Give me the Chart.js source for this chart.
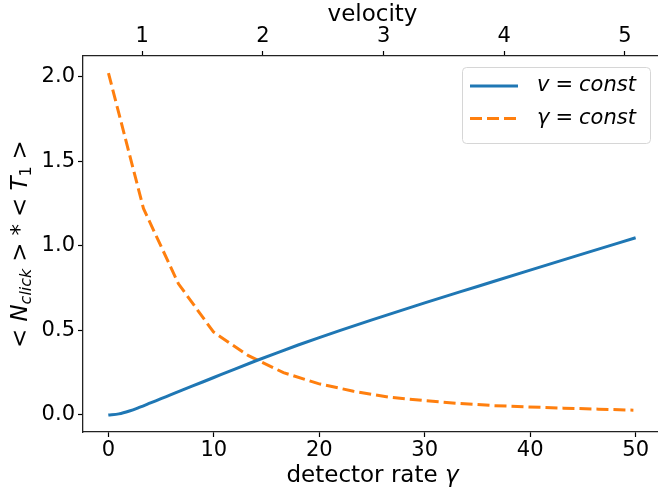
<!DOCTYPE html>
<html><head><meta charset="utf-8">
<script src="https://cdn.jsdelivr.net/npm/chart.js@4"></script>
<style>html,body{margin:0;padding:0;background:#fff;overflow:hidden;width:658px;height:493px}canvas{display:block}</style>
</head><body>
<canvas id="c" width="662" height="493"></canvas>
<script>
// ---- data ----
const detectorRate = [0,1,2,3,4,5,6,8,10,12,14,16,18,20,22,25,30,35,40,45,50];
const nClickVConst = [0,0.006,0.023,0.046,0.071,0.096,0.121,0.171,0.221,0.271,0.32,0.367,0.413,0.457,0.5,0.562,0.662,0.759,0.856,0.952,1.047];
const velocity = [0.72,1.01,1.30,1.59,1.88,2.17,2.46,2.75,3.04,3.33,3.62,3.91,4.20,4.49,4.78,5.07];
const nClickGammaConst = [2.02,1.22,0.775,0.49,0.35,0.25,0.185,0.14,0.105,0.085,0.068,0.055,0.047,0.04,0.034,0.028];
const seriesLabels = ['v = const','γ = const'];
const rateTicks = [0,10,20,30,40,50];
const velocityTicks = [1,2,3,4,5];
const yTicks = [0,0.5,1.0,1.5,2.0];
const xTitleParts = ['detector rate ', 'γ'];
const x2Title = 'velocity';

const FONT = '"DejaVu Sans", sans-serif';
const BLUE = '#1f77b4', ORANGE = '#ff7f0e';

const legendPlugin = {
  id: 'mplLegend',
  afterDraw(chart) {
    const ctx = chart.ctx;
    ctx.save();
    const bx = 462.5, by = 67.5, bw = 188, bh = 76, r = 4;
    ctx.beginPath();
    ctx.roundRect(bx, by, bw, bh, r);
    ctx.fillStyle = 'rgba(255,255,255,0.8)';
    ctx.fill();
    ctx.strokeStyle = '#d6d6d6';
    ctx.lineWidth = 1;
    ctx.stroke();
    const rows = [86, 118.5];
    chart.data.datasets.forEach((ds, i) => {
      const y = rows[i];
      ctx.beginPath();
      ctx.setLineDash(ds.borderDash || []);
      ctx.lineWidth = ds.borderWidth;
      ctx.strokeStyle = ds.borderColor;
      ctx.moveTo(470, y); ctx.lineTo(518, y);
      ctx.stroke();
      ctx.setLineDash([]);
      const [lhs, rhs] = ds.label.split(' = ');
      ctx.fillStyle = '#000';
      ctx.textBaseline = 'middle';
      ctx.textAlign = 'left';
      let x = 537;
      ctx.font = 'italic 21px ' + FONT;
      ctx.fillText(lhs, x, y); x += ctx.measureText(lhs).width + 6;
      ctx.font = '21px ' + FONT;
      ctx.fillText('=', x, y); x += ctx.measureText('=').width + 6;
      ctx.font = 'italic 21px ' + FONT;
      ctx.fillText(rhs, x, y);
    });
    ctx.restore();
  }
};

const titlesPlugin = {
  id: 'axisTitles',
  afterDraw(chart) {
    const ctx = chart.ctx;
    const a = chart.chartArea;
    ctx.save();
    ctx.fillStyle = '#000';
    // x title with italic gamma
    ctx.textBaseline = 'middle';
    ctx.textAlign = 'left';
    ctx.font = '23px ' + FONT;
    const w0 = ctx.measureText(xTitleParts[0]).width;
    ctx.font = 'italic 23px ' + FONT;
    const w1 = ctx.measureText(xTitleParts[1]).width;
    let x = (a.left + a.right) / 2 - (w0 + w1) / 2;
    ctx.font = '23px ' + FONT;
    ctx.fillText(xTitleParts[0], x, 476);
    ctx.font = 'italic 23px ' + FONT;
    ctx.fillText(xTitleParts[1], x + w0, 476);

    // y title  < N_click > * < T_1 >
    const parts = [
      {t:'<', s:23, it:false, dy:0, gap:0},
      {t:'N', s:23, it:true, dy:0, gap:7},
      {t:'click', s:16, it:true, dy:4, gap:0},
      {t:'>', s:23, it:false, dy:0, gap:7},
      {t:'*', s:23, it:false, dy:0, gap:7},
      {t:'<', s:23, it:false, dy:0, gap:7},
      {t:'T', s:23, it:true, dy:0, gap:7},
      {t:'1', s:16, it:false, dy:4, gap:0},
      {t:'>', s:23, it:false, dy:0, gap:7}
    ];
    let total = 0;
    parts.forEach(p => { ctx.font = (p.it?'italic ':'') + p.s + 'px ' + FONT; p.w = ctx.measureText(p.t).width; total += p.gap + p.w; });
    ctx.translate(27, (a.top + a.bottom) / 2);
    ctx.rotate(-Math.PI / 2);
    ctx.textBaseline = 'alphabetic';
    ctx.textAlign = 'left';
    x = -total / 2;
    parts.forEach(p => {
      x += p.gap;
      ctx.font = (p.it?'italic ':'') + p.s + 'px ' + FONT;
      ctx.fillText(p.t, x, p.dy);
      x += p.w;
    });
    ctx.restore();
  }
};

const setTicks = vals => scale => { scale.ticks = vals.map(v => ({value: v})); };
const axisCommon = {
  grid: { drawOnChartArea: false, drawTicks: true, tickLength: 5, tickColor: '#000', tickWidth: 1.2 },
  border: { display: true, color: '#222', width: 1.3 }
};

new Chart(document.getElementById('c'), {
  type: 'line',
  data: {
    datasets: [
      {
        label: seriesLabels[0],
        data: detectorRate.map((g, i) => ({x: g, y: nClickVConst[i]})),
        xAxisID: 'x', yAxisID: 'y',
        borderColor: BLUE, borderWidth: 3, pointRadius: 0,
        cubicInterpolationMode: 'monotone', fill: false
      },
      {
        label: seriesLabels[1],
        data: velocity.map((v, i) => ({x: v, y: nClickGammaConst[i]})),
        xAxisID: 'x2', yAxisID: 'y',
        borderColor: ORANGE, borderWidth: 3, borderDash: [12, 5], pointRadius: 0,
        tension: 0, fill: false
      }
    ]
  },
  options: {
    responsive: false,
    animation: false,
    events: [],
    layout: { padding: 0 },
    plugins: { legend: { display: false }, tooltip: { enabled: false } },
    scales: {
      x: {
        type: 'linear', position: 'bottom', min: -2.4, max: 52.5,
        afterBuildTicks: setTicks(rateTicks),
        afterFit: s => { s.height = 61; },
        ticks: { color: '#000', font: { family: FONT, size: 21 }, padding: 1, maxRotation: 0, callback: v => String(v) },
        ...axisCommon
      },
      x2: {
        type: 'linear', position: 'top', min: 0.509, max: 5.307,
        afterBuildTicks: setTicks(velocityTicks),
        afterFit: s => { s.height = 56; },
        ticks: { color: '#000', font: { family: FONT, size: 21 }, padding: 2, maxRotation: 0, callback: v => String(v) },
        title: { display: true, text: x2Title, color: '#000', font: { family: FONT, size: 23 }, padding: { top: 1, bottom: 0 } },
        ...axisCommon
      },
      y: {
        type: 'linear', position: 'left', min: -0.101, max: 2.121,
        afterBuildTicks: setTicks(yTicks),
        afterFit: s => { s.width = 83; },
        ticks: { color: '#000', font: { family: FONT, size: 21 }, padding: 3, callback: v => v.toFixed(1) },
        ...axisCommon
      }
    }
  },
  plugins: [legendPlugin, titlesPlugin]
});
</script>
</body></html>
